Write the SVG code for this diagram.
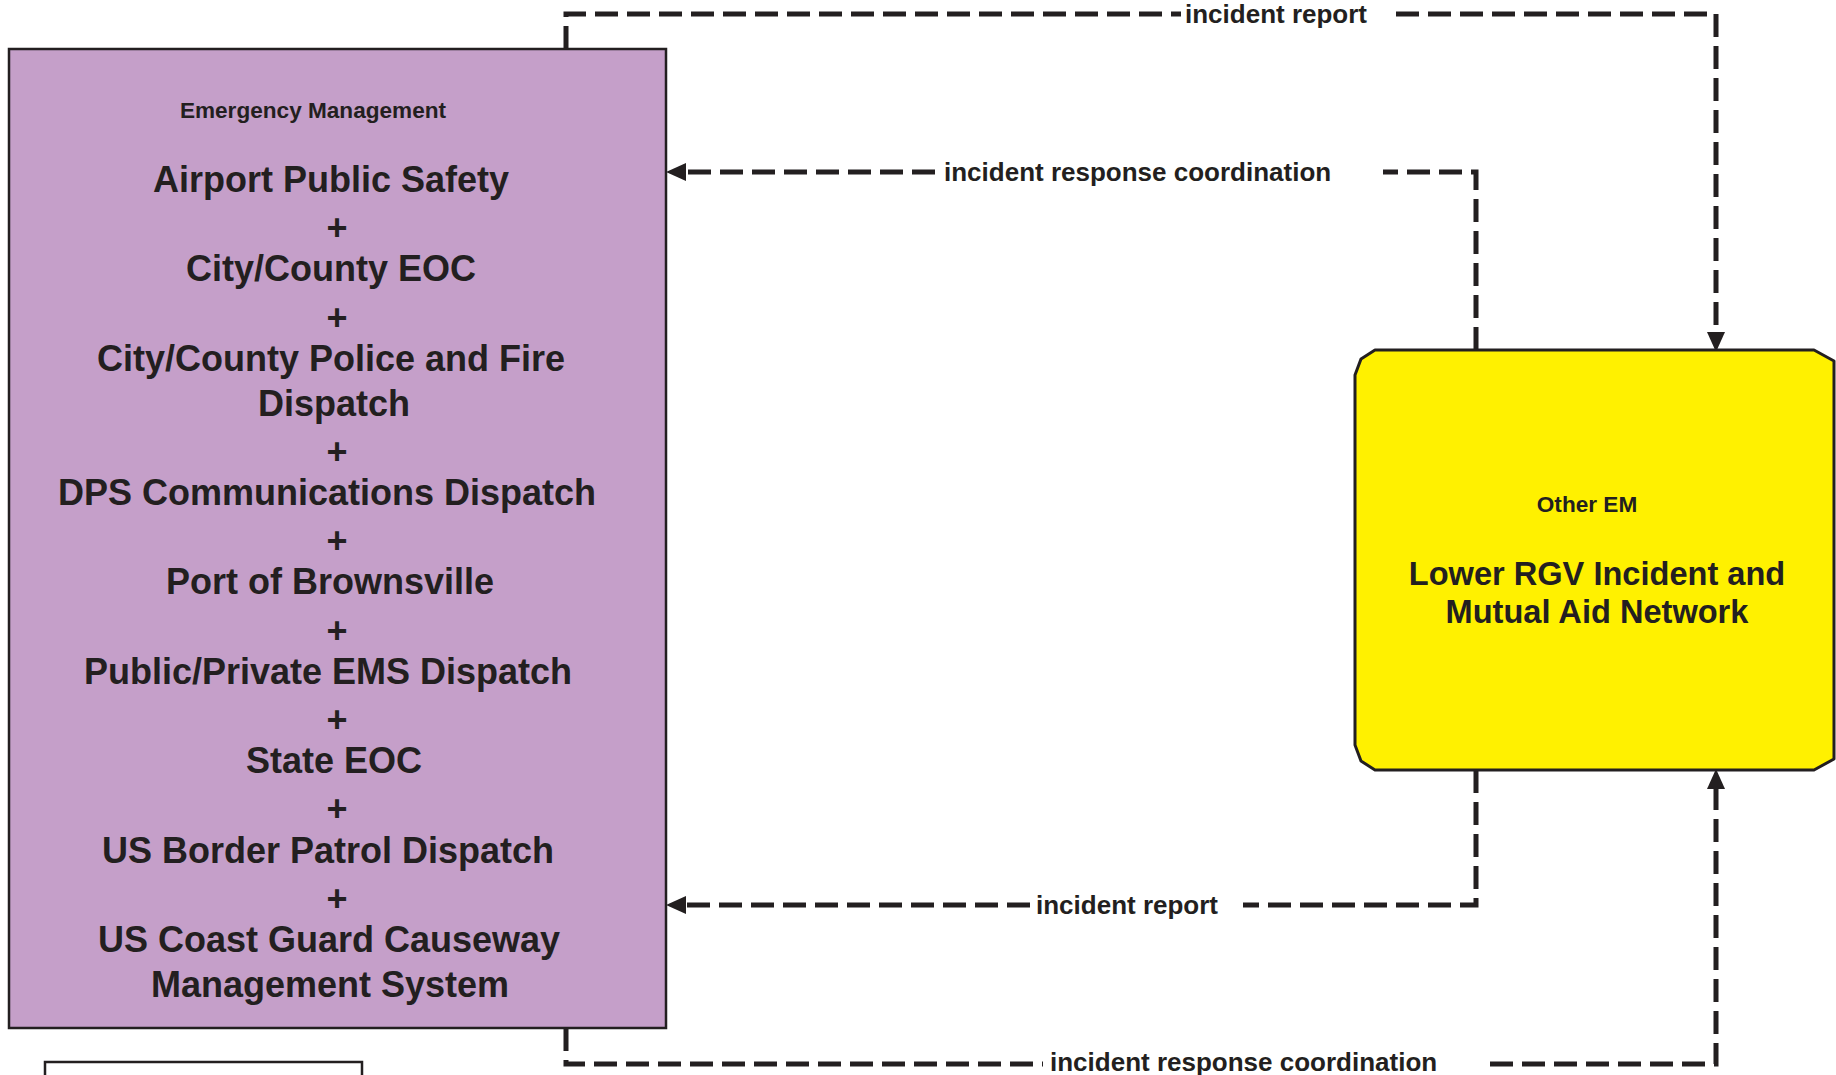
<svg xmlns="http://www.w3.org/2000/svg" width="1836" height="1075" viewBox="0 0 1836 1075">
<style>
text{font-family:"Liberation Sans",Arial,sans-serif;font-weight:bold;fill:#231F20}
.t{font-size:22.6px}
.b{font-size:36px;text-anchor:middle}
.y{font-size:32.6px;text-anchor:middle}
.l{font-size:26px}
.c{fill:none;stroke:#231F20;stroke-width:5;stroke-dasharray:23 9}
</style>
<defs>
<marker id="ah" viewBox="0 0 20 18" refX="0" refY="9" markerWidth="20" markerHeight="18" markerUnits="userSpaceOnUse" orient="auto">
<path d="M0,0 L20,9 L0,18 z" fill="#231F20"/>
</marker>
</defs>
<rect width="1836" height="1075" fill="#FFFFFF"/>
<g id="connectors">
<path class="c" d="M566,49 V14 H1181 M1396,14 H1716 V332" marker-end="url(#ah)"/>
<path class="c" d="M1476,350 V172 H1383 M935,172 H686" marker-end="url(#ah)"/>
<path class="c" d="M1476,770 V905 H1243 M1030,905 H686" marker-end="url(#ah)"/>
<path class="c" d="M566,1028 V1064 H1043 M1490,1064 H1716 V789" marker-end="url(#ah)"/>
<text class="l" x="1185" y="23">incident report</text>
<text class="l" x="944" y="181">incident response coordination</text>
<text class="l" x="1036" y="914">incident report</text>
<text class="l" x="1050" y="1071">incident response coordination</text>
</g>
<g id="emergency-management">
<rect x="9" y="49" width="657" height="979" fill="#C59FC9" stroke="#231F20" stroke-width="2.5"/>
<text class="t" x="313" y="118" text-anchor="middle">Emergency Management</text>
<text class="b" x="331" y="192">Airport Public Safety</text>
<text class="b" x="337" y="240">+</text>
<text class="b" x="331" y="281.4">City/County EOC</text>
<text class="b" x="337" y="329.5">+</text>
<text class="b" x="331" y="370.8">City/County Police and Fire</text>
<text class="b" x="334" y="415.5">Dispatch</text>
<text class="b" x="337" y="463.5">+</text>
<text class="b" x="327" y="504.9">DPS Communications Dispatch</text>
<text class="b" x="337" y="553">+</text>
<text class="b" x="330" y="594.3">Port of Brownsville</text>
<text class="b" x="337" y="642.5">+</text>
<text class="b" x="328" y="683.7">Public/Private EMS Dispatch</text>
<text class="b" x="337" y="731.5">+</text>
<text class="b" x="334" y="773.1">State EOC</text>
<text class="b" x="337" y="821">+</text>
<text class="b" x="328" y="862.5">US Border Patrol Dispatch</text>
<text class="b" x="337" y="910.5">+</text>
<text class="b" x="329" y="951.9">US Coast Guard Causeway</text>
<text class="b" x="330" y="996.6">Management System</text>
</g>
<g id="other-em">
<path d="M1375,350 H1814 L1834,361 V759 L1814,770 H1375 L1361,761 L1355,745 V375 L1361,359 Z" fill="#FFF100" stroke="#231F20" stroke-width="3" stroke-linejoin="round"/>
<text class="t" x="1587" y="512" text-anchor="middle">Other EM</text>
<text class="y" x="1597" y="585">Lower RGV Incident and</text>
<text class="y" x="1597" y="623">Mutual Aid Network</text>
</g>
<g id="legend-box">
<rect x="45" y="1062" width="317" height="30" fill="#FFFFFF" stroke="#231F20" stroke-width="2.5"/>
</g>
</svg>
